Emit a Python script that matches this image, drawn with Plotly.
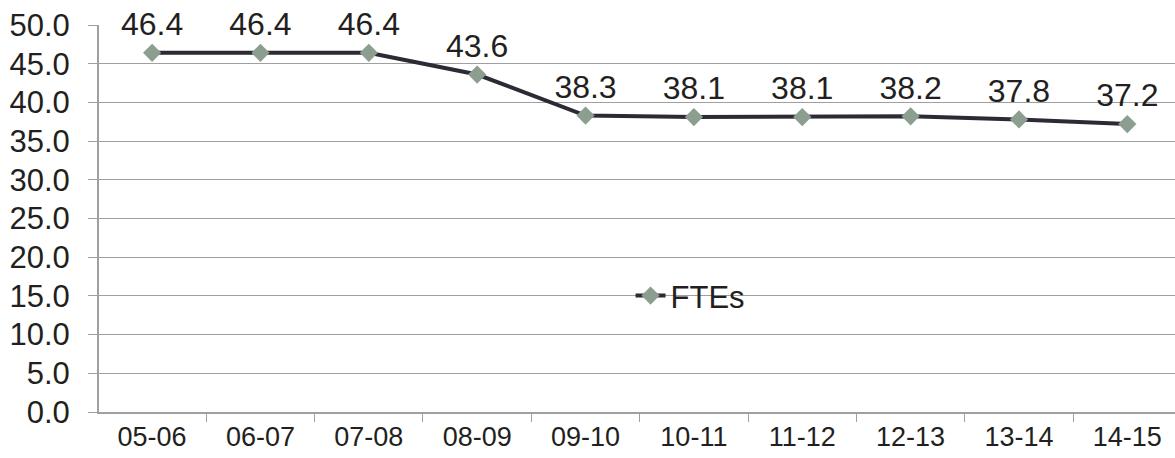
import plotly.graph_objects as go

# Full-time equivalents by fiscal year
years = ["05-06", "06-07", "07-08", "08-09", "09-10", "10-11", "11-12", "12-13", "13-14", "14-15"]
ftes = [46.4, 46.4, 46.4, 43.6, 38.3, 38.1, 38.1, 38.2, 37.8, 37.2]
y_ticks = [0, 5, 10, 15, 20, 25, 30, 35, 40, 45, 50]

FONT = "Liberation Sans, Arial, sans-serif"
TEXT = "#231F20"
GRID = "#A0A0A0"

fig = go.Figure()
fig.add_trace(go.Scatter(
    x=years,
    y=ftes,
    mode="lines+markers+text",
    name="FTEs",
    text=[f"{v:.1f}" for v in ftes],
    textposition="top center",
    textfont=dict(family=FONT, size=32, color=TEXT),
    line=dict(color="#2B2A35", width=4),
    marker=dict(symbol="diamond", size=14, color="#8C9E8F"),
    cliponaxis=False,
))

fig.update_layout(
    width=1175,
    height=458,
    margin=dict(l=99, r=0, t=25, b=46),
    paper_bgcolor="white",
    plot_bgcolor="white",
    font=dict(family=FONT, color=TEXT),
    showlegend=True,
    legend=dict(
        x=0.494, y=0.3, xanchor="left", yanchor="middle",
        bgcolor="rgba(0,0,0,0)",
        font=dict(family=FONT, size=31, color=TEXT),
        itemwidth=30,
    ),
    xaxis=dict(
        type="category",
        range=[-0.49, 9.44],
        showline=True, linecolor=GRID, linewidth=2,
        ticks="outside", tickson="boundaries", ticklen=8, tickcolor=GRID, tickwidth=1,
        showgrid=False,
        tickfont=dict(family=FONT, size=27, color=TEXT),
    ),
    yaxis=dict(
        range=[0, 50],
        tickvals=y_ticks,
        ticktext=[f"{v:.1f}" for v in y_ticks],
        showline=True, linecolor=GRID, linewidth=2,
        ticks="outside", ticklen=9, tickcolor=GRID, tickwidth=1,
        ticklabelstandoff=12,
        showgrid=True, gridcolor=GRID, gridwidth=1,
        zeroline=False,
        tickfont=dict(family=FONT, size=31, color=TEXT),
    ),
)

fig.write_html("out.html")
